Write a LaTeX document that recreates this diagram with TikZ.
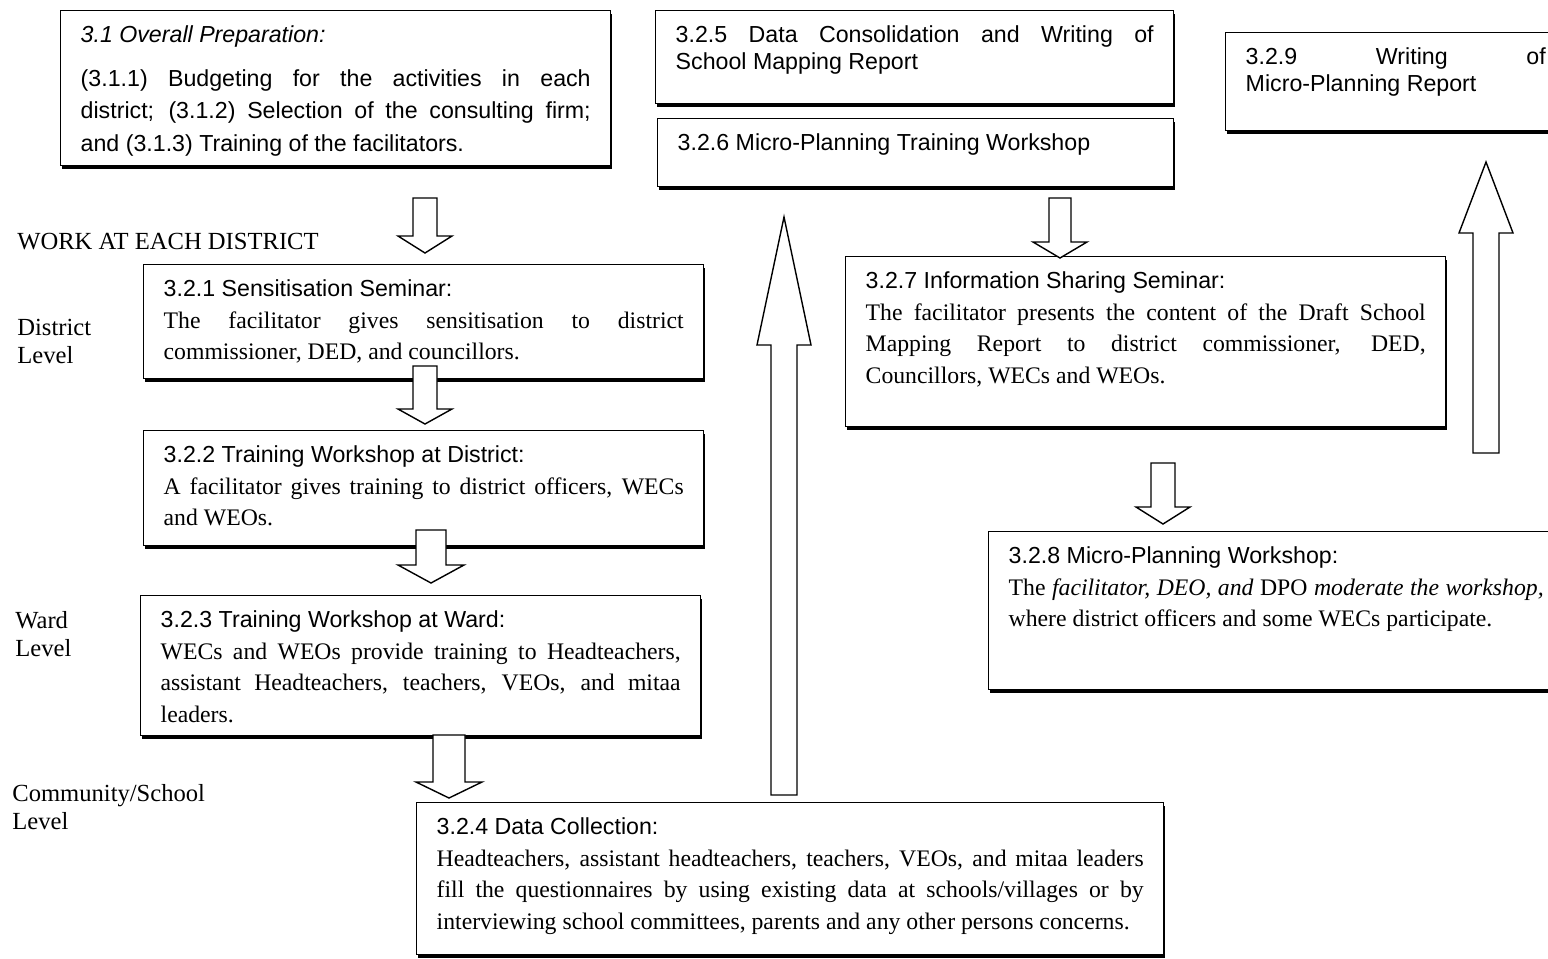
\documentclass[tikz,border=0pt]{standalone}
\usepackage{fontspec}
\setmainfont{Liberation Serif}
\setsansfont{Liberation Sans}
\usetikzlibrary{calc,shadows}
\hyphenpenalty=10000
\newdimen\pxu \pxu=0.02cm
% box text: width, height (px), text
\newcommand\boxtxt[3]{\parbox[t][\dimexpr#2\pxu-17pt\relax][t]{#1\pxu}{#3}}
\newcommand\boxtitle[1]{{\sffamily\fontsize{13.2}{18}\selectfont #1}}
% hollow block arrow: tail, tip, shaft half width, head half width, head length (px)
\newcommand\blockarr[5]{%
  \pgfmathsetlengthmacro\shaftw{#3*0.02cm}%
  \pgfmathsetlengthmacro\headw{#4*0.02cm}%
  \pgfmathsetlengthmacro\headl{#5*0.02cm}%
  \coordinate (#1-h) at ($(#2)!\headl!(#1)$);
  \draw[barr] ($(#1)!\shaftw!90:(#2)$) -- ($(#1-h)!\shaftw!-90:(#1)$) -- ($(#1-h)!\headw!-90:(#1)$)
    -- (#2) -- ($(#1-h)!\headw!90:(#1)$) -- ($(#1-h)!\shaftw!90:(#1)$) -- ($(#1)!\shaftw!-90:(#2)$) -- cycle;}

\begin{document}
\begin{tikzpicture}[x=0.02cm,y=-0.02cm,
 bx/.style={draw,fill=white,line width=0.8pt,anchor=north west,inner xsep=0.4cm,inner ysep=8.5pt,
   drop shadow={shadow xshift=0.035cm,shadow yshift=-0.065cm,fill=black,opacity=1}},
 sf/.style={font=\sffamily\fontsize{13.2}{15.4}\selectfont},
 tx/.style={font=\fontsize{13.5}{18}\selectfont},
 lbl/.style={font=\fontsize{14}{16}\selectfont,inner sep=0,align=left},
 barr/.style={draw,fill=white,line width=0.8pt,line join=miter}]
\path[use as bounding box,fill=white] (0,0) rectangle (1548,958);
% top row
\node[bx,font=\sffamily\fontsize{13.2}{18.5}\selectfont] (prep) at (60,10) {\boxtxt{510}{155}{\textit{3.1 Overall Preparation:}\\[6.5pt]
 (3.1.1) Budgeting for the activities in each \linebreak district; (3.1.2) Selection of the consulting firm; \linebreak and (3.1.3) Training of the facilitators.}};
\node[bx,sf] (cons) at (655,10) {\boxtxt{478}{93}{3.2.5 Data Consolidation and Writing of \linebreak School Mapping Report}};
\node[bx,sf] (mptw) at (657,118) {\boxtxt{476}{68}{3.2.6 Micro-Planning Training Workshop}};
\node[bx,sf] (mprep) at (1225,32) {\boxtxt{300}{98}{3.2.9 Writing of \linebreak Micro-Planning Report}};
% district, ward and community work
\node[bx,tx] (sens) at (143,264) {\boxtxt{520}{114}{\boxtitle{3.2.1 Sensitisation Seminar:}\\
 The facilitator gives sensitisation to district \linebreak commissioner, DED, and councillors.}};
\node[bx,tx] (trd) at (143,430) {\boxtxt{520}{115}{\boxtitle{3.2.2 Training Workshop at District:}\\
 A facilitator gives training to district officers, WECs \linebreak and WEOs.}};
\node[bx,tx] (trw) at (140,595) {\boxtxt{520}{140}{\boxtitle{3.2.3 Training Workshop at Ward:}\\
 WECs and WEOs provide training to Headteachers, \linebreak assistant Headteachers, teachers, VEOs, and mitaa \linebreak leaders.}};
\node[bx,tx] (coll) at (416,802) {\boxtxt{707}{152}{\boxtitle{3.2.4 Data Collection:}\\
 Headteachers, assistant headteachers, teachers, VEOs, and mitaa leaders \linebreak fill the questionnaires by using existing data at schools/villages or by \linebreak interviewing school committees, parents and any other persons concerns.}};
% right column
\node[bx,tx] (share) at (845,256) {\boxtxt{560}{170}{\boxtitle{3.2.7 Information Sharing Seminar:}\\
 The facilitator presents the content of the Draft School \linebreak Mapping Report to district commissioner, DED, \linebreak Councillors, WECs and WEOs.}};
\node[bx,tx] (mpw) at (988,531) {\boxtxt{535}{158}{\boxtitle{3.2.8 Micro-Planning Workshop:}\\
 The \textit{facilitator, DEO, and} DPO \textit{moderate the workshop,} \linebreak where district officers and some WECs participate.}};
% level labels
\node[lbl,anchor=base west] (work) at (17,249) {WORK AT EACH DISTRICT};
\node[lbl,anchor=north west] (dlev) at (17,319) {District\\Level};
\node[lbl,anchor=north west] (wlev) at (15,611) {Ward\\Level};
\node[lbl,anchor=north west] (clev) at (12,784) {Community/School\\Level};
% block arrows
\coordinate (a1) at (425,198); \coordinate (a1t) at (425,253);
\coordinate (a2) at (425,366); \coordinate (a2t) at (425,424);
\coordinate (a3) at (431,530); \coordinate (a3t) at (431,583);
\coordinate (a4) at (449,735); \coordinate (a4t) at (449,798);
\coordinate (a5) at (1060,198); \coordinate (a5t) at (1060,258);
\coordinate (a6) at (1163,463); \coordinate (a6t) at (1163,524);
\coordinate (a7) at (784,795); \coordinate (a7t) at (784,217);
\coordinate (a8) at (1486,453); \coordinate (a8t) at (1486,162);
\blockarr{a1}{a1t}{12}{27}{17}
\blockarr{a2}{a2t}{12}{27}{15}
\blockarr{a3}{a3t}{15}{33}{18}
\blockarr{a4}{a4t}{16}{33}{16}
\blockarr{a5}{a5t}{11}{27}{16}
\blockarr{a6}{a6t}{12}{27}{17}
\blockarr{a7}{a7t}{13}{27}{128}
\blockarr{a8}{a8t}{13}{27}{71}
\end{tikzpicture}
\end{document}
